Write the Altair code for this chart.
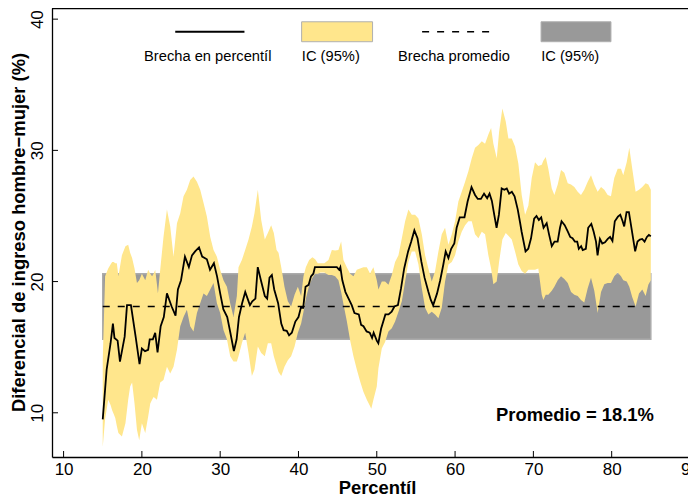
import altair as alt
import pandas as pd

# ---------------- data ----------------
pct = [15.0, 15.5, 16.0, 16.3, 16.5, 16.9, 17.2, 17.8, 18.1, 18.6, 19.2, 19.7, 20.0, 20.4, 20.8,
       21.0, 21.4, 21.7, 22.0, 22.4, 22.8, 23.2, 23.8, 24.3, 24.6, 25.0, 25.5, 26.0, 26.4, 26.8,
       27.3, 27.7, 28.3, 28.7, 29.2, 29.6, 30.0, 30.4, 30.9, 31.3, 31.75, 32.1, 32.4, 32.8, 33.2,
       33.5, 33.8, 34.1, 34.5, 34.8, 35.2, 35.7, 36.0, 36.3, 36.6, 36.9, 37.4, 37.8, 38.1, 38.5,
       38.8, 39.15, 39.6, 40.0, 40.3, 40.6, 40.9, 41.3, 41.6, 41.9, 42.1, 44.9, 45.2, 45.35, 45.6,
       46.0, 46.4, 46.8, 47.15, 47.7, 48.0, 48.3, 48.7, 49.1, 49.4, 49.6, 50.0, 50.2, 50.55, 51.1,
       51.5, 51.9, 52.25, 52.7, 53.1, 53.5, 54.0, 54.4, 54.8, 55.2, 55.7, 56.1, 56.6, 56.9, 57.2,
       57.7, 58.1, 58.5, 58.8, 59.15, 59.5, 59.9, 60.2, 60.6, 61.2, 61.6, 62.1, 62.55, 62.9, 63.3,
       63.7, 64.1, 64.4, 64.7, 65.0, 65.3, 65.6, 65.95, 66.3, 66.6, 66.9, 67.25, 67.6, 68.0, 68.3,
       68.5, 69.0, 69.35, 69.7, 70.1, 70.4, 70.7, 71.0, 71.3, 71.7, 72.0, 72.35, 72.7, 73.1, 73.4,
       73.6, 74.0, 74.4, 74.7, 75.0, 75.3, 75.6, 75.8, 76.1, 76.3, 76.7, 77.0, 77.4, 77.7, 78.0,
       78.2, 78.5, 78.8, 79.15, 79.5, 79.8, 80.1, 80.4, 80.8, 81.1, 81.4, 81.6, 81.9, 82.2, 82.6,
       83.0, 83.3, 83.6, 83.9, 84.2, 84.5, 84.75, 85.0]
brecha = [9.5, 13.3, 15.3, 16.8, 15.7, 15.5, 13.9, 15.8, 18.2, 18.2, 15.8, 13.7, 14.9, 14.7, 14.8,
          15.6, 15.6, 16.1, 14.6, 16.6, 17.3, 19.1, 18.1, 17.4, 19.4, 20.1, 21.9, 21.1, 22.0, 22.3,
          22.6, 21.9, 21.7, 20.9, 21.4, 20.4, 19.1, 17.9, 17.3, 16.1, 14.7, 15.6, 17.3, 18.35, 19.2,
          18.7, 18.2, 18.5, 18.7, 21.1, 20.1, 18.9, 18.7, 20.3, 20.5, 19.4, 18.35, 16.8, 16.3, 16.25,
          15.9, 16.1, 16.95, 17.3, 18.0, 18.0, 19.6, 19.75, 20.4, 20.6, 21.1, 21.1, 20.9, 21.1, 20.1,
          19.2, 18.7, 18.2, 17.6, 17.5, 16.7, 16.6, 16.2, 16.1, 15.7, 16.1, 15.5, 15.3, 16.4, 17.5,
          17.5, 17.7, 18.1, 18.2, 19.5, 21.0, 22.3, 23.05, 23.9, 23.3, 21.5, 20.3, 19.2, 18.6, 18.2,
          19.1, 20.1, 21.3, 22.3, 21.8, 22.5, 22.9, 24.1, 24.9, 24.9, 26.1, 27.2, 26.6, 26.3, 26.3,
          26.7, 26.35, 26.7, 26.15, 25.1, 24.1, 25.1, 27.1, 27.0, 27.1, 26.7, 26.85, 26.5, 25.5, 24.5,
          23.8, 22.3, 22.5, 23.3, 24.8, 25.0, 24.7, 24.9, 24.1, 24.45, 23.6, 22.7, 23.05, 23.05, 24.1,
          24.6, 24.3, 23.8, 23.4, 23.3, 23.05, 23.05, 22.5, 22.7, 22.4, 22.5, 24.1, 24.4, 23.8, 23.05,
          22.0, 23.25, 22.9, 23.0, 23.25, 23.4, 23.1, 24.6, 24.95, 25.1, 24.6, 24.2, 25.3, 25.3, 23.8,
          22.3, 23.05, 23.2, 23.25, 23.05, 23.4, 23.55, 23.45]

ci_x = [15.0, 15.3, 15.7, 16.0, 16.2, 16.4, 16.6, 16.8, 17.0, 17.45, 17.9, 18.25, 18.5, 18.75, 19.06,
        19.37, 19.66, 20.0, 20.43, 20.8, 21.07, 21.3, 21.5, 21.7, 21.92, 22.05, 22.34, 22.76, 23.2,
        23.62, 24.04, 24.48, 24.9, 25.32, 25.75, 26.17, 26.59, 27.03, 27.45, 27.87, 28.3, 28.73,
        29.15, 29.58, 30.0, 30.42, 30.86, 31.28, 31.7, 32.13, 32.34, 32.77, 33.19, 33.62, 34.05,
        34.38, 34.81, 35.24, 35.7, 36.09, 36.51, 36.85, 37.2, 37.45, 37.8, 38.21, 38.64, 39.06, 39.5,
        39.92, 40.34, 40.64, 40.94, 41.36, 41.78, 42.13, 42.47, 42.8, 43.3, 43.83, 44.26, 44.68,
        45.1, 45.45, 45.74, 46.17, 46.6, 47.02, 47.45, 47.87, 48.29, 48.73, 49.15, 49.3, 49.57, 50.0,
        50.21, 50.64, 51.06, 51.49, 51.92, 52.34, 52.77, 53.2, 53.62, 54.04, 54.47, 54.89, 55.32,
        55.75, 56.17, 56.59, 57.02, 57.45, 57.87, 58.3, 58.72, 59.15, 59.58, 60.0, 60.42, 60.85,
        61.28, 61.7, 62.13, 62.55, 62.98, 63.41, 63.83, 64.25, 64.6, 64.89, 65.32, 65.62, 66.04,
        66.47, 66.81, 67.24, 67.66, 68.08, 68.51, 68.94, 69.36, 69.79, 70.21, 70.63, 71.07, 71.27,
        71.58, 71.91, 72.35, 72.68, 73.11, 73.53, 73.95, 74.39, 74.81, 75.23, 75.66, 76.08, 76.5,
        76.94, 77.36, 77.78, 78.21, 78.64, 79.06, 79.49, 79.91, 80.33, 80.77, 81.19, 81.48, 81.92,
        82.25, 82.63, 83.06, 83.49, 83.91, 84.34, 84.68, 85.0]
ci_lo = [7.4, 9.5, 11.0, 10.6, 10.2, 9.9, 9.6, 9.0, 8.45, 8.2, 9.2, 11.0, 12.0, 12.3, 10.7,
         8.7, 7.9, 9.2, 8.45, 9.7, 10.7, 11.0, 11.2, 11.1, 11.0, 11.4, 12.3, 12.5, 13.5,
         13.0, 13.5, 14.8, 16.6, 17.3, 17.85, 16.6, 16.2, 17.6, 18.35, 19.1, 18.9, 19.4,
         19.9, 18.35, 17.6, 16.3, 15.6, 14.3, 13.9, 13.9, 14.3, 15.3, 16.1, 14.55, 12.8,
         13.3, 15.05, 14.55, 14.3, 15.3, 15.3, 14.3, 13.6, 13.1, 12.8, 13.5, 14.0, 14.3, 15.05,
         16.1, 16.8, 17.7, 18.7, 19.7, 20.3, 20.6, 20.6, 20.7, 20.7, 20.5, 20.5, 20.4,
         20.1, 19.2, 18.3, 17.0, 15.5, 14.3, 13.3, 12.4, 11.6, 11.0, 10.5, 10.3, 11.0, 12.0,
         13.4, 14.9, 15.4, 16.2, 16.45, 16.95, 17.7, 18.5, 20.0, 21.5, 22.3, 22.3, 21.3,
         19.5, 18.0, 17.5, 17.7, 17.5, 17.2, 18.0, 20.0, 21.3, 21.5, 22.0, 23.05, 23.8,
         24.3, 24.6, 24.6, 23.6, 23.3, 23.8, 23.6, 22.0, 21.0, 19.8, 20.0, 21.5, 23.2,
         23.7, 23.5, 23.2, 22.3, 21.3, 20.8, 20.6, 20.9, 20.9, 20.9, 21.0, 19.0, 18.6,
         19.0, 19.0, 19.3, 19.6, 20.1, 20.4, 20.2, 19.9, 19.2, 19.0, 18.9, 18.6, 18.4,
         19.5, 20.3, 19.3, 17.6, 19.2, 19.8, 19.9, 19.9, 20.4, 20.7, 20.4, 20.1, 20.0,
         19.6, 18.8, 18.1, 19.1, 19.4, 18.9, 19.75, 20.1]
ci_hi = [14.0, 20.4, 21.0, 21.3, 21.5, 21.5, 21.4, 21.4, 20.4, 22.0, 22.7, 22.8, 22.2, 21.8, 21.0,
         19.9, 20.1, 20.6, 20.1, 20.9, 20.6, 20.4, 20.6, 20.9, 19.8, 19.1, 20.9, 23.4, 25.5,
         24.2, 21.9, 24.45, 25.2, 26.5, 27.0, 27.75, 28.0, 27.6, 27.0, 26.0, 24.95, 23.4,
         22.4, 21.9, 20.9, 20.1, 19.6, 18.35, 17.3, 18.9, 21.1, 21.65, 22.4, 23.2, 24.2,
         25.2, 27.0, 24.7, 23.2, 23.7, 24.3, 23.7, 22.4, 22.2, 21.1, 19.6, 18.5, 18.1, 19.0,
         19.6, 18.9, 20.4, 21.1, 21.65, 21.86, 21.7, 21.4, 21.4, 21.4, 21.65, 22.4, 22.36,
         22.4, 23.05, 21.65, 21.1, 20.6, 20.4, 20.9, 21.0, 21.1, 21.1, 20.6, 20.8, 21.1, 20.1,
         19.4, 20.0, 20.0, 19.75, 20.5, 21.5, 22.0, 23.3, 24.6, 25.5, 25.1, 25.1, 24.8,
         23.6, 22.0, 21.0, 20.0, 20.8, 22.3, 23.6, 24.1, 22.8, 23.6, 24.6, 26.1, 26.85,
         27.6, 28.4, 29.4, 30.2, 30.4, 30.7, 30.5, 31.2, 31.7, 30.5, 29.4, 31.4, 33.2,
         32.2, 30.9, 30.9, 30.3, 29.0, 26.6, 25.1, 25.8, 27.9, 29.1, 28.8, 28.9, 29.2,
         29.5, 28.6, 27.1, 26.6, 27.4, 28.5, 28.3, 27.5, 27.4, 27.2, 26.85, 26.6, 27.0,
         27.6, 28.1, 27.4, 26.85, 27.2, 27.0, 26.6, 26.5, 27.9, 28.6, 28.6, 28.1, 29.1,
         30.2, 28.6, 26.85, 27.0, 27.2, 27.5, 27.4, 27.0]

mean_gap = 18.1
mean_lo = 15.6
mean_hi = 20.6
p_start, p_end = 15, 85

x_ticks = [10, 20, 30, 40, 50, 60, 70, 80, 90]
y_ticks = [10, 20, 30, 40]

legend_labels = ["Brecha en percentíl", "IC (95%)", "Brecha promedio", "IC (95%)"]
annotation = "Promedio = 18.1%"

FONT = "Liberation Sans, Arial, Helvetica, sans-serif"
YELLOW = "#FFE68C"
GREY = "#999999"

# ---------------- tables ----------------
line_df = pd.DataFrame({"p": pct, "g": brecha})
ci_df = pd.DataFrame({"p": ci_x, "lo": ci_lo, "hi": ci_hi})
band_df = pd.DataFrame({"p0": [p_start], "p1": [p_end], "lo": [mean_lo], "hi": [mean_hi], "m": [mean_gap]})
xt_df = pd.DataFrame({"v": x_ticks})
yt_df = pd.DataFrame({"v": y_ticks})

# plot region: the reference's frame runs past the right edge of the picture,
# so the x scale is laid over a slightly wider range than the visible view.
W, H = 636, 449
XR = 644
XD = [8.52, 90.77]
YD = [6.63, 40.85]
XS = alt.Scale(domain=XD, range=[0, XR], nice=False, zero=False)
YS = alt.Scale(domain=YD, nice=False, zero=False)

XA = alt.Axis(values=x_ticks, title="Percentíl", ticks=False, grid=False,
              labelPadding=17.5, labelBaseline="alphabetic", labelFontSize=17,
              labelFont=FONT, labelColor="black", labelFlush=False, labelOverlap=False,
              domainColor="black", domainWidth=1.3,
              titleFont=FONT, titleFontSize=18.4, titleFontWeight="bold",
              titleColor="black", titleX=325, titleY=36, titleBaseline="alphabetic")
YA = alt.Axis(values=y_ticks, title="Diferencial de ingreso hombre−mujer (%)",
              ticks=False, grid=False, labelAngle=270, labelAlign="center",
              labelBaseline="alphabetic", labelPadding=9.3, labelFontSize=17,
              labelFont=FONT, labelColor="black", labelOverlap=False,
              domainColor="black", domainWidth=1.3,
              titleFont=FONT, titleFontSize=18.4, titleFontWeight="bold",
              titleColor="black", titleAngle=270, titleX=-28, titleY=224,
              titleBaseline="alphabetic", titleAlign="center")


def X(f):
    return alt.X(f, scale=XS, axis=XA)


def Y(f):
    return alt.Y(f, scale=YS, axis=YA)


# legend geometry in data units
leg_line_df = pd.DataFrame({"x0": [24.26], "x1": [33.1], "y": [39.04]})
leg_dash_df = pd.DataFrame({"x0": [55.79], "x1": [64.6], "y": [39.04]})
leg_rect_df = pd.DataFrame({"x0": [40.40, 70.98], "x1": [49.46, 79.91], "y0": [38.28, 38.28],
                            "y1": [39.80, 39.80], "c": [YELLOW, GREY]})
leg_text_c = pd.DataFrame({"x": [28.41, 59.85], "y": [36.81, 36.81], "t": [legend_labels[0], legend_labels[2]]})
leg_text_l = pd.DataFrame({"x": [40.43, 71.0], "y": [36.81, 36.81], "t": [legend_labels[1], legend_labels[3]]})
ann_df = pd.DataFrame({"x": [85.4], "y": [9.41], "t": [annotation]})

# ---------------- layers ----------------
band = alt.Chart(band_df).mark_rect(fill=GREY, stroke="#ababab", strokeWidth=1.5).encode(
    x=X("p0:Q"), x2="p1:Q", y=Y("lo:Q"), y2="hi:Q")

ci = alt.Chart(ci_df).mark_area(fill=YELLOW, opacity=1).encode(
    x=X("p:Q"), y=Y("lo:Q"), y2=alt.Y2("hi:Q"))

mean_line = alt.Chart(band_df).mark_rule(color="black", strokeWidth=1.3, strokeDash=[7, 8]).encode(
    x=X("p0:Q"), x2="p1:Q", y=Y("m:Q"))

gap_line = alt.Chart(line_df).mark_line(color="black", strokeWidth=1.8).encode(
    x=X("p:Q"), y=Y("g:Q"))

xticks = alt.Chart(xt_df).mark_rule(color="black", strokeWidth=1).encode(
    x=X("v:Q"), y=alt.value(H), y2=alt.value(H - 6))
yticks = alt.Chart(yt_df).mark_rule(color="black", strokeWidth=1).encode(
    y=Y("v:Q"), x=alt.value(0), x2=alt.value(6))
top_border = alt.Chart(band_df).mark_rule(color="black", strokeWidth=1.3).encode(
    x=alt.value(0), x2=alt.value(XR), y=alt.value(0.6))

leg_line = alt.Chart(leg_line_df).mark_rule(color="black", strokeWidth=1.8).encode(
    x=X("x0:Q"), x2="x1:Q", y=Y("y:Q"))
leg_dash = alt.Chart(leg_dash_df).mark_rule(color="black", strokeWidth=1.3, strokeDash=[7, 8]).encode(
    x=X("x0:Q"), x2="x1:Q", y=Y("y:Q"))
leg_rect = alt.Chart(leg_rect_df).mark_rect(stroke="#b0b0b0", strokeWidth=1).encode(
    x=X("x0:Q"), x2="x1:Q", y=Y("y0:Q"), y2="y1:Q",
    fill=alt.Fill("c:N", scale=None))
leg_tc = alt.Chart(leg_text_c).mark_text(align="center", baseline="alphabetic", font=FONT,
                                         fontSize=14.7, color="black").encode(
    x=X("x:Q"), y=Y("y:Q"), text="t:N")
leg_tl = alt.Chart(leg_text_l).mark_text(align="left", baseline="alphabetic", font=FONT,
                                         fontSize=14.7, color="black").encode(
    x=X("x:Q"), y=Y("y:Q"), text="t:N")
ann = alt.Chart(ann_df).mark_text(align="right", baseline="alphabetic", font=FONT, fontSize=18.4,
                                  fontWeight="bold", color="black").encode(
    x=X("x:Q"), y=Y("y:Q"), text="t:N")

chart = alt.layer(
    band, ci, mean_line, gap_line, xticks, yticks, top_border,
    leg_line, leg_dash, leg_rect, leg_tc, leg_tl, ann
).properties(
    width=W, height=H,
    autosize=alt.AutoSizeParams(type="none"),
    padding={"left": 44, "top": 0, "right": 0, "bottom": 38},
    background="white",
).configure_view(stroke=None)

chart.save("out.html", embed_options={"renderer": "svg", "actions": False})
